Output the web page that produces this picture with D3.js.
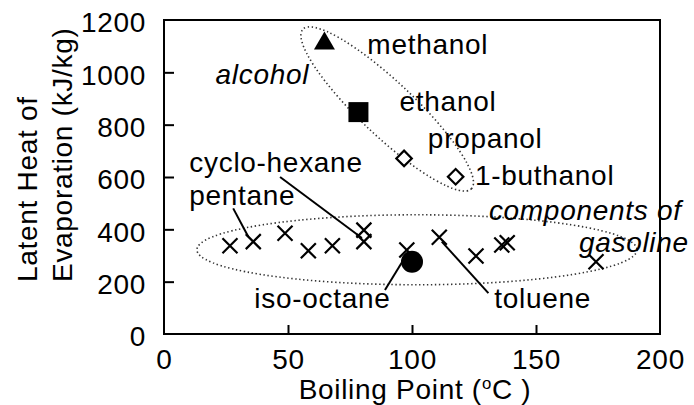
<!DOCTYPE html>
<html>
<head>
<meta charset="utf-8">
<script src="https://cdn.jsdelivr.net/npm/d3@7"></script>
<style>
  html, body { margin: 0; padding: 0; background: #fff; }
  svg { display: block; }
  text { font-family: "Liberation Sans", Arial, sans-serif; fill: #000; }
</style>
</head>
<body>
<svg id="chart" width="694" height="405"></svg>
<script>
// Boiling point (°C) vs latent heat of evaporation (kJ/kg)

// Alcohols
const alcoholNames = ["methanol", "ethanol", "propanol", "1-buthanol"];
const alcoholBP    = [64.7, 78.4, 96.8, 117.6];
const alcoholLH    = [1110, 848, 671, 601];
const alcoholShape = ["triangle", "square", "diamond", "diamond"];

// Gasoline components (cross markers)
const gasBP = [26.6, 36.0, 48.8, 58.2, 67.9, 80.6, 80.6, 97.9, 111.0, 125.8, 136.2, 138.4, 174.2];
const gasLH = [337, 353, 385, 318, 337, 397, 353, 321, 370, 298, 340, 349, 276];

// Iso-octane (filled circle)
const isoBP = [100];
const isoLH = [276];

// Axis ticks
const xTicks = [0, 50, 100, 150, 200];
const yTicks = [0, 200, 400, 600, 800, 1000, 1200];

// Text labels: [text, x (°C), y (kJ/kg), italic]
const labelText   = ["methanol", "alcohol", "ethanol", "propanol", "1-buthanol",
                     "components of", "gasoline", "cyclo-hexane", "pentane", "iso-octane", "toluene"];
const labelX      = [82.0, 20.8, 95.0, 106.4, 125.4, 131.0, 167.3, 10.2, 10.2, 36.4, 133.2];
const labelY      = [1069, 955, 853, 710, 569, 436, 315, 620, 493, 98, 98];
const labelItalic = [false, true, false, false, false, true, true, false, false, false, false];

// Leader lines: from label end to marker end, in data units
const leaderX1 = [46.8, 27.9, 89.1, 112.0];
const leaderY1 = [600, 480, 168, 353];
const leaderX2 = [79.8, 34.0, 97.2, 130.8];
const leaderY2 = [367, 372, 293, 156];

// Group outlines: centre in data units
const groupCX = [90.0, 102.0];
const groupCY = [860, 320];

const svg = d3.select("#chart");
const margin = { left: 164, right: 34, top: 20, bottom: 71 };
const W = 694, H = 405;

const x = d3.scaleLinear().domain([0, 200]).range([margin.left, W - margin.right]);
const y = d3.scaleLinear().domain([0, 1200]).range([H - margin.bottom, margin.top]);

const FS = 28;
const LS = "0.7px";

// Axes with inward ticks
const yAxis = d3.axisLeft(y).tickValues(yTicks).tickFormat(d3.format("d"))
  .tickSizeInner(-10).tickSizeOuter(0).tickPadding(18);
const xAxis = d3.axisBottom(x).tickValues(xTicks).tickFormat(d3.format("d"))
  .tickSizeInner(-9).tickSizeOuter(0).tickPadding(15);

const gy = svg.append("g").attr("transform", `translate(${x(0)},0)`).call(yAxis);
const gx = svg.append("g").attr("transform", `translate(0,${y(0)})`).call(xAxis);

[gx, gy].forEach(g => {
  g.select(".domain").remove();
  g.selectAll(".tick line").attr("stroke", "#000").attr("stroke-width", 2);
  g.selectAll(".tick text")
    .attr("font-family", "Liberation Sans, Arial, sans-serif")
    .attr("font-size", FS)
    .style("letter-spacing", LS)
    .attr("fill", "#000");
});
gy.selectAll(".tick line").filter(d => d === 0 || d === 1200).remove();
gx.selectAll(".tick line").filter(d => d === 0 || d === 200).remove();
gy.selectAll(".tick text").attr("dy", "0.42em");

// Plot frame
svg.append("rect")
  .attr("x", x(0)).attr("y", y(1200))
  .attr("width", x(200) - x(0)).attr("height", y(0) - y(1200))
  .attr("fill", "none").attr("stroke", "#000").attr("stroke-width", 2);

// Axis titles
const xt = svg.append("text")
  .attr("x", (x(0) + x(200)) / 2 + 3).attr("y", 399)
  .attr("text-anchor", "middle")
  .attr("font-size", FS).style("letter-spacing", LS);
xt.append("tspan").text("Boiling Point (");
xt.append("tspan").attr("font-size", FS * 0.6).attr("dy", -10).text("o");
xt.append("tspan").attr("dy", 10).text("C )");

const yt = svg.append("text")
  .attr("transform", "rotate(-90)")
  .attr("font-size", FS).style("letter-spacing", LS);
yt.append("tspan").attr("x", -282).attr("y", 36.5).text("Latent Heat of");
yt.append("tspan").attr("x", -282).attr("y", 71.5).text("Evaporation (kJ/kg)");

// Dotted group outlines
const alcC = [x(groupCX[0]), y(groupCY[0])];
svg.append("ellipse")
  .attr("transform", `translate(${alcC[0]},${alcC[1]}) rotate(43.4)`)
  .attr("rx", 116).attr("ry", 27)
  .attr("fill", "none").attr("stroke", "#333").attr("stroke-width", 1.6)
  .attr("stroke-dasharray", "1.4,2.6");

const gasC = [x(groupCX[1]), y(groupCY[1])];
svg.append("ellipse")
  .attr("cx", gasC[0]).attr("cy", gasC[1] - 0.5)
  .attr("rx", 220).attr("ry", 35)
  .attr("fill", "none").attr("stroke", "#333").attr("stroke-width", 1.6)
  .attr("stroke-dasharray", "1.4,2.6");

// Leader lines
svg.append("g").selectAll("line")
  .data(d3.range(leaderX1.length))
  .join("line")
  .attr("x1", i => x(leaderX1[i])).attr("y1", i => y(leaderY1[i]))
  .attr("x2", i => x(leaderX2[i])).attr("y2", i => y(leaderY2[i]))
  .attr("stroke", "#000").attr("stroke-width", 2);

// Gasoline component crosses
const cross = "M-7.5,-7.5L7.5,7.5M-7.5,7.5L7.5,-7.5";
svg.append("g").selectAll("path")
  .data(d3.range(gasBP.length))
  .join("path")
  .attr("transform", i => `translate(${x(gasBP[i])},${y(gasLH[i])})`)
  .attr("d", cross)
  .attr("fill", "none").attr("stroke", "#000").attr("stroke-width", 2.2);

// Alcohol markers
const shapeGen = {
  triangle: d3.symbol(d3.symbolTriangle, 190)(),
  square: d3.symbol(d3.symbolSquare, 400)(),
  diamond: d3.symbol(d3.symbolSquare, 120)()
};
svg.append("g").selectAll("path")
  .data(d3.range(alcoholNames.length))
  .join("path")
  .attr("transform", i => `translate(${x(alcoholBP[i])},${y(alcoholLH[i])})` +
        (alcoholShape[i] === "diamond" ? " rotate(45)" : ""))
  .attr("d", i => shapeGen[alcoholShape[i]])
  .attr("fill", i => alcoholShape[i] === "diamond" ? "#fff" : "#000")
  .attr("stroke", "#000")
  .attr("stroke-width", i => alcoholShape[i] === "diamond" ? 2.2 : 0);

// Iso-octane marker
svg.append("g").selectAll("circle")
  .data(d3.range(isoBP.length))
  .join("circle")
  .attr("cx", i => x(isoBP[i])).attr("cy", i => y(isoLH[i]))
  .attr("r", 11).attr("fill", "#000");

// Labels
svg.append("g").selectAll("text")
  .data(d3.range(labelText.length))
  .join("text")
  .attr("x", i => x(labelX[i])).attr("y", i => y(labelY[i]))
  .attr("font-size", FS)
  .attr("font-style", i => labelItalic[i] ? "italic" : "normal")
  .style("letter-spacing", LS)
  .text(i => labelText[i]);
</script>
</body>
</html>
